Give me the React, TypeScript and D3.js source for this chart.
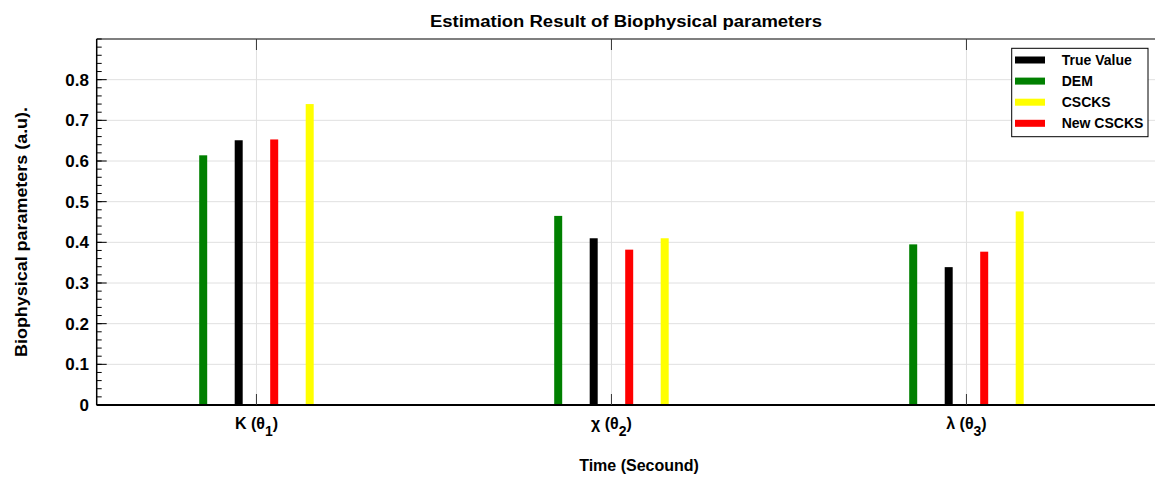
import React from 'react';
import * as d3 from 'd3';

// parameter names (drawn as "K (θ1)" etc.)
const categories = ['K', 'χ', 'λ'];
const thetaIndex = ['1', '2', '3'];

const trueValue = [0.651, 0.41, 0.339];
const dem = [0.614, 0.465, 0.395];
const cscks = [0.74, 0.41, 0.476];
const newCscks = [0.653, 0.382, 0.377];

const yTicks = [0, 0.1, 0.2, 0.3, 0.4, 0.5, 0.6, 0.7, 0.8];

const series = [
    { name: 'True Value', values: trueValue, color: '#000000', offset: -0.05 },
    { name: 'DEM', values: dem, color: '#008000', offset: -0.15 },
    { name: 'CSCKS', values: cscks, color: '#ffff00', offset: 0.15 },
    { name: 'New CSCKS', values: newCscks, color: '#ff0000', offset: 0.05 },
];

const W = 1155;
const H = 477;
const left = 96.7;
const right = 1161.7;
const top = 39;
const bottom = 405;
const FONT = '"Liberation Sans", Arial, sans-serif';

export default function App() {
    const x = d3.scaleLinear().domain([0.55, 3.55]).range([left, right]);
    const y = d3.scaleLinear().domain([0, 0.9]).range([bottom, top]);
    const minor = d3.range(0, 0.9001, 0.02);
    const barW = 8;

    return (
        <svg
            width={W}
            height={H}
            style={{ position: 'absolute', left: 0, top: 0, background: '#fff' }}
            fontFamily={FONT}
            fontWeight="bold"
        >
            <rect x={0} y={0} width={W} height={H} fill="#fff" />

            {/* grid */}
            {yTicks.slice(1).map(t => (
                <line key={'gy' + t} x1={left} x2={right} y1={y(t)} y2={y(t)} stroke="#e0e0e0" strokeWidth={1} />
            ))}
            {categories.map((c, i) => (
                <line key={'gx' + c} x1={x(i + 1)} x2={x(i + 1)} y1={top} y2={bottom} stroke="#e0e0e0" strokeWidth={1} />
            ))}

            {/* bars */}
            {series.map(s =>
                s.values.map((v, i) => (
                    <rect
                        key={s.name + i}
                        x={x(i + 1 + s.offset) - barW / 2}
                        y={y(v)}
                        width={barW}
                        height={y(0) - y(v)}
                        fill={s.color}
                    />
                ))
            )}

            {/* axes frame */}
            <line x1={left} x2={right} y1={top} y2={top} stroke="#555" strokeWidth={1.5} />
            <line x1={left} x2={right} y1={bottom} y2={bottom} stroke="#000" strokeWidth={2} />
            <line x1={left} x2={left} y1={top} y2={bottom} stroke="#000" strokeWidth={1.5} />

            {/* y ticks */}
            {minor.map(t => (
                <line key={'mt' + t} x1={left} x2={left + 5} y1={y(t)} y2={y(t)} stroke="#000" strokeWidth={1} />
            ))}
            {yTicks.map(t => (
                <g key={'yt' + t}>
                    <line x1={left} x2={left + 10} y1={y(t)} y2={y(t)} stroke="#000" strokeWidth={1} />
                    <text x={89} y={y(t)} dy="0.36em" textAnchor="end" fontSize={17}>
                        {t === 0 ? '0' : d3.format('.1f')(t)}
                    </text>
                </g>
            ))}

            {/* x ticks and labels */}
            {categories.map((c, i) => (
                <g key={'xt' + c}>
                    <line x1={x(i + 1)} x2={x(i + 1)} y1={bottom} y2={bottom - 11} stroke="#333" strokeWidth={1} />
                    <line x1={x(i + 1)} x2={x(i + 1)} y1={top} y2={top + 11} stroke="#333" strokeWidth={1} />
                    <text x={x(i + 1)} y={429} textAnchor="middle" fontSize={16}>
                        {c + ' (θ'}
                        <tspan fontSize={14} dy={7}>{thetaIndex[i]}</tspan>
                        <tspan dy={-7}>)</tspan>
                    </text>
                </g>
            ))}

            {/* titles */}
            <text x={626} y={27} textAnchor="middle" fontSize={16} textLength={392} lengthAdjust="spacingAndGlyphs">
                Estimation Result of Biophysical parameters
            </text>
            <text x={639} y={471} textAnchor="middle" fontSize={16}>
                Time (Secound)
            </text>
            <text
                transform="translate(27,232) rotate(-90)"
                textAnchor="middle"
                fontSize={17}
                textLength={250}
                lengthAdjust="spacingAndGlyphs"
            >
                Biophysical parameters (a.u).
            </text>

            {/* legend */}
            <g>
                <rect x={1011.7} y={48.3} width={136.3} height={88.4} fill="#fff" stroke="#000" strokeWidth={1} />
                {series.map((s, i) => {
                    const ly = 60 + i * 21.1;
                    return (
                        <g key={'lg' + s.name}>
                            <rect x={1015} y={ly - 3.5} width={30} height={7} fill={s.color} />
                            <text x={1061.7} y={ly} dy="0.36em" fontSize={14}>
                                {s.name}
                            </text>
                        </g>
                    );
                })}
            </g>
        </svg>
    );
}
